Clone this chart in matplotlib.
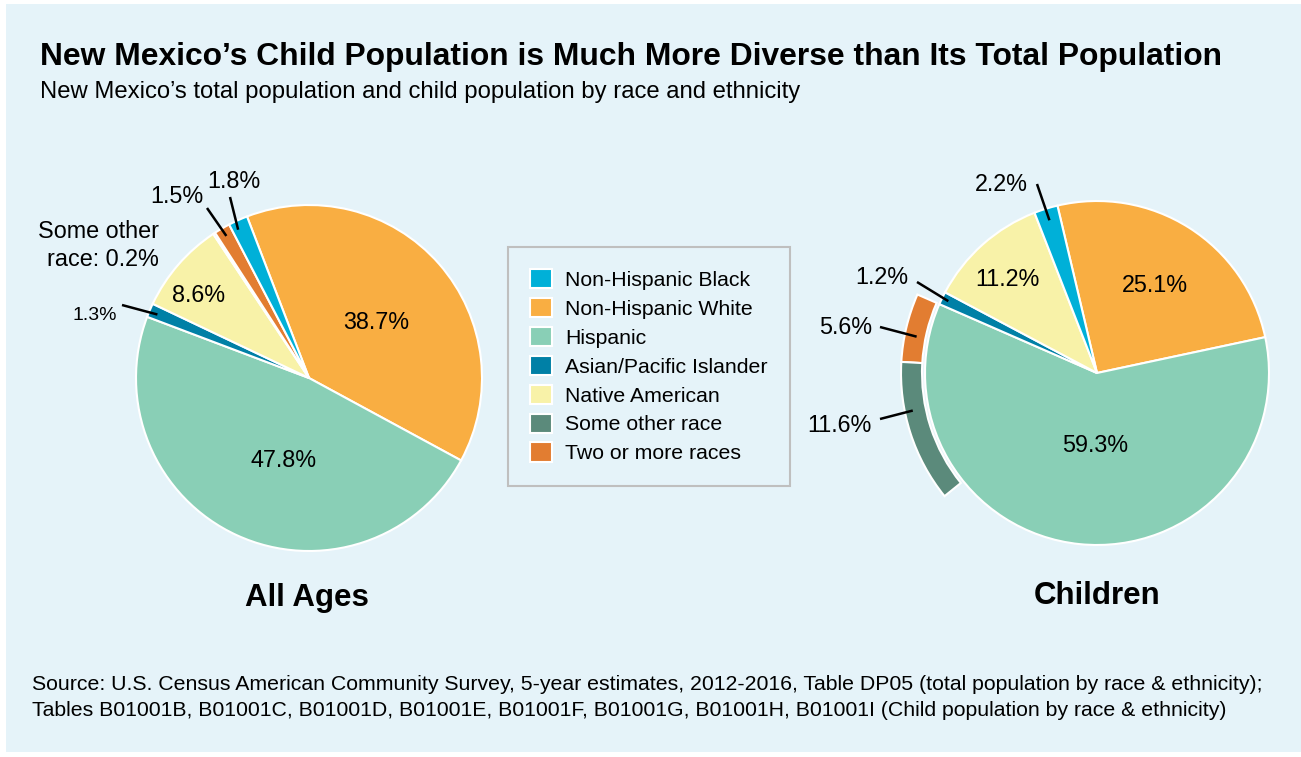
import numpy as np
import matplotlib.pyplot as plt
import matplotlib as mpl
from matplotlib.patches import Wedge, Patch, Rectangle

mpl.rcParams['font.family'] = ['Liberation Sans', 'DejaVu Sans']

W, H = 1301, 757

# --- data -------------------------------------------------------------
groups = ['Non-Hispanic Black', 'Non-Hispanic White', 'Hispanic',
          'Asian/Pacific Islander', 'Native American', 'Some other race',
          'Two or more races']
colors = ['#00B0D8', '#F9AE42', '#89CFB6', '#0080A6', '#F8F2A8',
          '#5B8A7B', '#E27D31']
allAges = [1.8, 38.7, 47.8, 1.3, 8.6, 0.2, 1.5]
children = [2.2, 25.1, 59.3, 1.2, 11.2, 11.6, 5.6]

# drawing order (clockwise from the start angle)
leftOrder = [1, 2, 3, 4, 5, 6, 0]
rightOrder = [1, 2, 3, 4, 0]
ringOrder = [6, 5]   # overlap groups, drawn as an outer band on the right pie

title = 'New Mexico\u2019s Child Population is Much More Diverse than Its Total Population'
subtitle = 'New Mexico\u2019s total population and child population by race and ethnicity'
source = ('Source: U.S. Census American Community Survey, 5-year estimates, 2012-2016, '
          'Table DP05 (total population by race & ethnicity);\n'
          'Tables B01001B, B01001C, B01001D, B01001E, B01001F, B01001G, B01001H, '
          'B01001I (Child population by race & ethnicity)')

# --- layout (pixels, y measured from the top) -------------------------
leftCenter, leftR, leftStart = (309, 378), 173, 111.0
rightCenter, rightR, rightStart = (1097, 373), 172, 103.3
ringIn, ringOut = 175, 196

# label: text centre, optional leader start, position along wedge (t) and radius
leftLabels = {
    1: dict(xy=(376, 321)),
    2: dict(xy=(284, 459)),
    4: dict(xy=(199, 294)),
    3: dict(xy=(95, 313), line=(122, 305), t=0.57, r=0.95, size=14),
    5: dict(xy=(159, 243), ha='right', fmt='Some other\nrace: {}%'),
    6: dict(xy=(177, 195), line=(207, 208), t=0.5, r=0.95),
    0: dict(xy=(234, 180), line=(230, 197), t=0.7, r=0.95),
}
rightLabels = {
    1: dict(xy=(1155, 284)),
    2: dict(xy=(1095, 444)),
    4: dict(xy=(1007, 278)),
    0: dict(xy=(1001, 183), line=(1037, 184), t=0.5, r=0.93),
    3: dict(xy=(882, 276), line=(917, 282), t=0.5, r=0.96),
}
ringLabels = {
    6: dict(xy=(846, 326), line=(880, 327), t=0.6, r=184),
    5: dict(xy=(839, 424), line=(880, 419), t=0.35, r=188),
}


def py(y):
    """Convert a pixel row (from top) to data y."""
    return H - y


def putText(ax, x, y, s, size=16.8, ha='center', weight='normal'):
    """Place text so that its cap height is centred on y (pixels from top).
    Multi-line text is anchored on the baseline of its last line."""
    nlines = s.count('\n')
    off = 0.36 * size * 100 / 72
    lineH = 29
    ax.text(x, py(y) - off - nlines * lineH / 2, s, fontsize=size, ha=ha,
            va='baseline', weight=weight, multialignment=ha,
            linespacing=1.29)


def wedgePoint(center, w, t, r):
    ang = np.deg2rad(w.theta1 + t * (w.theta2 - w.theta1))
    return center[0] + r * np.cos(ang), py(center[1]) + r * np.sin(ang)


def drawLabels(ax, center, radius, wedges, labels, values):
    for k, opt in labels.items():
        w = wedges[k]
        s = opt.get('fmt', '{}%').format(values[k])
        putText(ax, opt['xy'][0], opt['xy'][1], s, size=opt.get('size', 16.8),
                ha=opt.get('ha', 'center'))
        if 'line' in opt:
            r = opt['r'] if opt['r'] > 2 else opt['r'] * radius
            ex, ey = wedgePoint(center, w, opt['t'], r)
            ax.plot([opt['line'][0], ex], [py(opt['line'][1]), ey],
                    color='black', lw=1.8, solid_capstyle='butt', zorder=5)


fig = plt.figure(figsize=(W / 100, H / 100), dpi=100, facecolor='white')
fig.patches.append(Rectangle((6 / W, 1 - 752 / H), (W - 6) / W, 748 / H,
                             transform=fig.transFigure, facecolor='#E5F3F9',
                             edgecolor='none', zorder=-10))
ax = fig.add_axes([0, 0, 1, 1])
ax.patch.set_alpha(0)

wp = dict(edgecolor='white', linewidth=1.5)

# left pie
lw, _ = ax.pie([allAges[i] for i in leftOrder], colors=[colors[i] for i in leftOrder],
               startangle=leftStart, counterclock=False,
               center=(leftCenter[0], py(leftCenter[1])), radius=leftR,
               wedgeprops=wp)
leftWedges = {g: w for g, w in zip(leftOrder, lw)}

# right pie
rw, _ = ax.pie([children[i] for i in rightOrder], colors=[colors[i] for i in rightOrder],
               startangle=rightStart, counterclock=False,
               center=(rightCenter[0], py(rightCenter[1])), radius=rightR,
               wedgeprops=wp)
rightWedges = {g: w for g, w in zip(rightOrder, rw)}

# outer band for groups overlapping Hispanic, starting at Hispanic's end
total = sum(children[i] for i in rightOrder)
a0 = rightWedges[2].theta1
ringWedges = {}
for g in ringOrder:
    span = children[g] / total * 360
    wdg = Wedge((rightCenter[0], py(rightCenter[1])), ringOut, a0, a0 + span,
                width=ringOut - ringIn, facecolor=colors[g], **wp)
    ax.add_patch(wdg)
    ringWedges[g] = wdg
    a0 += span

ax.set_xlim(0, W)
ax.set_ylim(0, H)
ax.set_aspect('auto')
ax.axis('off')

drawLabels(ax, leftCenter, leftR, leftWedges, leftLabels, allAges)
drawLabels(ax, rightCenter, rightR, rightWedges, rightLabels, children)
drawLabels(ax, rightCenter, rightR, ringWedges, ringLabels, children)

# titles
ax.text(40, py(65), title, fontsize=22.9, weight='bold', ha='left', va='baseline')
ax.text(40, py(98), subtitle, fontsize=17.2, ha='left', va='baseline')
putText(ax, 307, 595, 'All Ages', size=22.5, weight='bold')
putText(ax, 1097, 593, 'Children', size=22.5, weight='bold')
ax.text(32, py(716), source, fontsize=15.3, ha='left', va='baseline',
        linespacing=1.48)

# legend
handles = [Patch(facecolor=c, edgecolor='white', linewidth=1.5, label=g)
           for g, c in zip(groups, colors)]
leg = fig.legend(handles=handles, loc='upper left',
                 bbox_to_anchor=(508 / W, 1 - 247 / H), borderaxespad=0,
                 fontsize=15.3, frameon=True, fancybox=False,
                 facecolor='#E5F3F9', edgecolor='#BFBFBF', framealpha=1,
                 handlelength=1.0, handleheight=1.0, handletextpad=0.65,
                 labelspacing=0.38, borderpad=1.05)
leg.get_frame().set_linewidth(1.5)

fig.savefig('out.png', dpi=100, facecolor=fig.get_facecolor())
